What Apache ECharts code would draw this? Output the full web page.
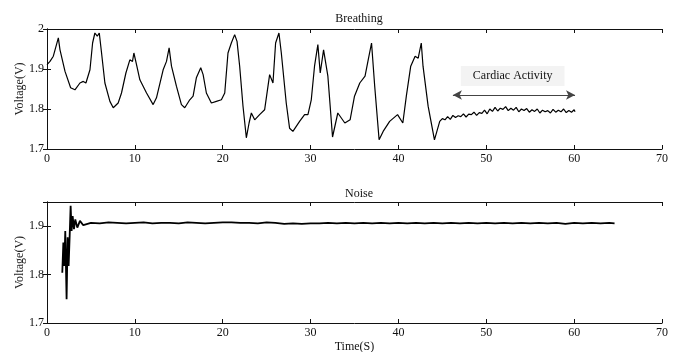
<!DOCTYPE html>
<html>
<head>
<meta charset="utf-8">
<script src="https://cdn.jsdelivr.net/npm/echarts@6/dist/echarts.min.js"></script>
<style>
  html, body { margin: 0; padding: 0; background: #fff; }
  #main { width: 681px; height: 352px; }
</style>
</head>
<body>
<div id="main"></div>
<script>
// breathing trace (time in s, voltage in V)
const breathTime = [
  0, 0.34, 0.72, 0.9, 1.29, 1.48, 2.05, 2.69, 3.18, 3.75, 4.13, 4.43, 4.89, 5.19, 5.45, 5.72, 5.95,
  6.21, 6.59, 7.16, 7.54, 8.1, 8.48, 8.98, 9.43, 9.73, 9.89, 10.19, 10.57, 11.33, 12.08, 12.46,
  13.22, 13.6, 13.9, 14.17, 14.73, 15.3, 15.68, 16.25, 16.63, 17.0, 17.5, 17.77, 18.14, 18.71,
  19.28, 19.85, 20.23, 20.6, 20.98, 21.36, 21.63, 21.93, 22.31, 22.69, 23.0, 23.26, 23.64, 24.2,
  24.77, 25.34, 25.72, 26.02, 26.4, 26.67, 27.23, 27.61, 27.99, 28.75, 29.32, 29.7, 30.08, 30.45,
  30.83, 31.1, 31.48, 31.97, 32.5, 33.1, 33.3, 33.9, 34.5, 35.0, 35.6, 36.2, 36.56, 36.94, 37.3,
  37.8, 38.26, 39.0, 39.9, 40.5, 40.9, 41.4, 41.9, 42.25, 42.6, 42.8, 43.38, 44.1,
  44.7, 45.0, 45.3, 45.6, 45.9, 46.2, 46.5, 46.8, 47.1, 47.4, 47.7, 48.0, 48.3, 48.6, 48.9, 49.2,
  49.5, 49.8, 50.1, 50.4, 50.7, 51.0, 51.3, 51.6, 51.9, 52.2, 52.5, 52.8, 53.1, 53.4, 53.7, 54.0,
  54.3, 54.6, 54.9, 55.2, 55.5, 55.8, 56.1, 56.4, 56.7, 57.0, 57.3, 57.6, 57.9, 58.2, 58.5, 58.8,
  59.1, 59.4, 59.7, 60.0, 60.1
];
const breathVolt = [
  1.911, 1.919, 1.932, 1.927, 1.978, 1.948, 1.894, 1.853, 1.848, 1.865, 1.869, 1.865, 1.898, 1.965, 1.99, 1.982, 1.99,
  1.94, 1.865, 1.819, 1.803, 1.815, 1.84, 1.89, 1.923, 1.919, 1.94, 1.911, 1.873, 1.84, 1.811, 1.828,
  1.898, 1.919, 1.953, 1.907, 1.857, 1.811, 1.803, 1.823, 1.832, 1.878, 1.903, 1.886, 1.84, 1.815,
  1.819, 1.823, 1.84, 1.94, 1.965, 1.986, 1.969, 1.907, 1.807, 1.728, 1.765, 1.79, 1.773, 1.786,
  1.798, 1.886, 1.865, 1.965, 1.99, 1.94, 1.815, 1.752, 1.744, 1.769, 1.786, 1.786, 1.823, 1.907,
  1.961, 1.89, 1.948, 1.882, 1.73, 1.79, 1.786, 1.765, 1.773, 1.832, 1.865, 1.882, 1.923, 1.965, 1.857,
  1.723, 1.744, 1.769, 1.786, 1.765, 1.832, 1.907, 1.932, 1.927, 1.965, 1.907, 1.807, 1.723,
  1.769, 1.776, 1.773, 1.781, 1.774, 1.784, 1.779, 1.783, 1.781, 1.788, 1.780, 1.787, 1.786, 1.792, 1.784, 1.791,
  1.789, 1.797, 1.788, 1.800, 1.794, 1.804, 1.795, 1.802, 1.799, 1.806, 1.796, 1.802, 1.797, 1.804, 1.793, 1.800,
  1.796, 1.801, 1.792, 1.798, 1.794, 1.800, 1.790, 1.797, 1.793, 1.796, 1.790, 1.799, 1.792, 1.797, 1.793, 1.800,
  1.791, 1.796, 1.792, 1.798, 1.793
];

// noise trace
const noiseTime = [
  1.74, 1.86, 1.97, 2.08, 2.23, 2.35, 2.46, 2.58, 2.69, 2.8, 2.92, 3.07, 3.22, 3.45, 3.75, 4.13,
  5, 6, 7, 8, 9, 10, 11, 12, 13, 14, 15, 16, 17, 18, 19, 20, 21, 22, 23, 24, 25, 26, 27, 28, 29,
  30, 31, 32, 33, 34, 35, 36, 37, 38, 39, 40, 41, 42, 43, 44, 45, 46, 47, 48, 49, 50, 51, 52, 53,
  54, 55, 56, 57, 58, 59, 60, 61, 62, 63, 64, 64.6
];
const noiseVolt = [
  1.804, 1.866, 1.818, 1.89, 1.749, 1.877, 1.818, 1.88, 1.942, 1.89, 1.921, 1.894, 1.914, 1.897, 1.911, 1.902,
  1.907, 1.906, 1.908, 1.907, 1.906, 1.907, 1.908, 1.906, 1.907, 1.907, 1.906, 1.908, 1.907, 1.906, 1.907, 1.908, 1.908, 1.907, 1.907, 1.906, 1.908, 1.907, 1.905, 1.906, 1.905,
  1.906, 1.906, 1.907, 1.906, 1.907, 1.906, 1.907, 1.906, 1.907, 1.906, 1.907, 1.906, 1.907, 1.906, 1.907, 1.906, 1.907, 1.906, 1.907, 1.906, 1.907, 1.906, 1.907, 1.906,
  1.907, 1.906, 1.907, 1.906, 1.907, 1.905, 1.907, 1.906, 1.907, 1.906, 1.907, 1.906
];

const xTicks = [0, 10, 20, 30, 40, 50, 60, 70];
const arrowSpan = [46.2, 60.1];
const arrowLevel = 1.835;
const notePos = [53.0, 1.8825];
const noteText = "Cardiac Activity";

const zip = (xs, ys) => xs.map((x, i) => [x, ys[i]]);

const font = "Liberation Serif";
const ink = "#111";

function xAxisPair(grid) {
  return [
    {
      type: "value", gridIndex: grid, min: xTicks[0], max: xTicks[xTicks.length - 1], interval: 10,
      axisLine: { lineStyle: { color: ink, width: 1 } },
      axisTick: { inside: true, length: 4, lineStyle: { color: ink } },
      axisLabel: { fontFamily: font, fontSize: 12, color: ink, margin: 4 },
      splitLine: { show: false },
      name: grid === 1 ? "Time(S)" : "",
      nameLocation: "middle", nameGap: 18, nameMoveOverlap: false,
      nameTextStyle: { fontFamily: font, fontSize: 12, color: ink }
    },
    {
      type: "value", gridIndex: grid, position: "top", min: 0, max: 70, interval: 10,
      axisLine: { lineStyle: { color: ink, width: 1 } },
      axisTick: { inside: true, length: 4, lineStyle: { color: ink } },
      axisLabel: { show: false }, splitLine: { show: false }
    }
  ];
}

function yAxisPair(grid, max) {
  return [
    {
      type: "value", gridIndex: grid, min: 1.7, max: max, interval: 0.1,
      axisLine: { show: true, lineStyle: { color: ink, width: 1 } },
      axisTick: { show: true, inside: true, length: 4, lineStyle: { color: ink } },
      axisLabel: { fontFamily: font, fontSize: 12, color: ink, margin: 3, showMaxLabel: grid === 0 },
      splitLine: { show: false },
      name: "Voltage(V)", nameLocation: "middle", nameGap: 21, nameMoveOverlap: false,
      nameTextStyle: { fontFamily: font, fontSize: 12, color: "#222" }
    },
    {
      type: "value", gridIndex: grid, position: "right", min: 1.7, max: max, interval: 0.1,
      axisLine: { show: true, lineStyle: { color: ink, width: 1 } },
      axisTick: { show: true, inside: true, length: 4, lineStyle: { color: ink } },
      axisLabel: { show: false }, splitLine: { show: false }
    }
  ];
}

const chart = echarts.init(document.getElementById("main"));
chart.setOption({
  animation: false,
  backgroundColor: "#fff",
  title: [
    { text: "Breathing", left: 354, textAlign: "center", top: 8,
      textStyle: { fontFamily: font, fontSize: 12, fontWeight: "normal", color: ink } },
    { text: "Noise", left: 354, textAlign: "center", top: 183,
      textStyle: { fontFamily: font, fontSize: 12, fontWeight: "normal", color: ink } }
  ],
  grid: [
    { left: 47, right: 19, top: 29, height: 120, containLabel: false, outerBoundsMode: "none" },
    { left: 47, right: 19, top: 202, height: 121, containLabel: false, outerBoundsMode: "none" }
  ],
  xAxis: [...xAxisPair(0), ...xAxisPair(1)],
  yAxis: [...yAxisPair(0, 2.0), ...yAxisPair(1, 1.95)],
  series: [
    {
      type: "line", xAxisIndex: 0, yAxisIndex: 0, showSymbol: false,
      data: zip(breathTime, breathVolt),
      lineStyle: { color: "#000", width: 1.2 },
      markLine: {
        silent: true, symbol: ["arrow", "arrow"], symbolSize: [7, 9],
        label: { show: false },
        lineStyle: { color: "#444", width: 1.2, type: "solid" },
        data: [[{ coord: [arrowSpan[0], arrowLevel] }, { coord: [arrowSpan[1], arrowLevel] }]]
      },
      markPoint: {
        silent: true, symbol: "rect", symbolSize: 0,
        data: [{ coord: notePos }],
        label: {
          show: true, position: "inside", formatter: noteText,
          fontFamily: font, fontSize: 12, color: ink,
          backgroundColor: "#f3f3f3", padding: [4, 12]
        }
      }
    },
    {
      type: "line", xAxisIndex: 2, yAxisIndex: 2, showSymbol: false,
      data: zip(noiseTime, noiseVolt),
      lineStyle: { color: "#000", width: 1.8 }
    }
  ]
});
</script>
</body>
</html>
